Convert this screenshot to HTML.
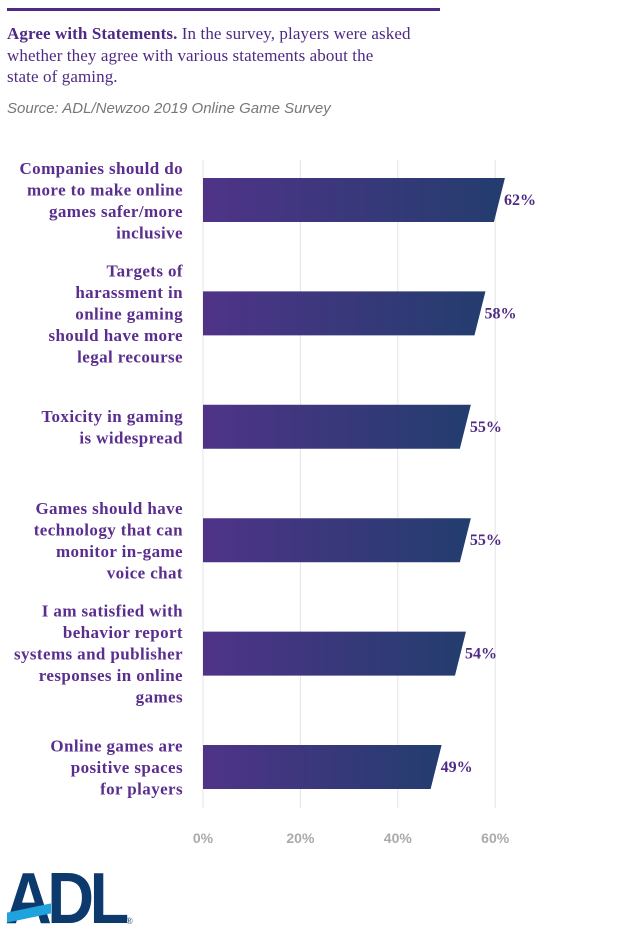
<!DOCTYPE html>
<html><head><meta charset="utf-8"><style>
body{margin:0;width:620px;height:941px;background:#fff;position:relative;overflow:hidden;font-family:"Liberation Serif",serif}
.t{position:absolute}
</style></head><body>
<div class="t" style="left:7px;top:8px;width:433px;height:3px;background:#4e2a84"></div>
<div class="t" style="left:7px;top:23px;width:460px;font-size:17px;line-height:21.5px;color:#4e2a84;letter-spacing:0.1px;white-space:nowrap"><b>Agree with Statements.</b> In the survey, players were asked<br>whether they agree with various statements about the<br>state of gaming.</div>
<div class="t" style="left:7px;top:100px;font-family:'Liberation Sans',sans-serif;font-style:italic;font-size:15px;color:#777">Source: ADL/Newzoo 2019 Online Game Survey</div>
<svg class="t" style="left:0;top:0" width="620" height="941" id="chart">
<defs><linearGradient id="g" x1="0" x2="1"><stop offset="0" stop-color="#4f3388"/><stop offset="1" stop-color="#233d6e"/></linearGradient></defs>
</svg>
<div class="t" style="left:5px;top:866px;width:135px;height:65px">
<div style="position:absolute;left:0;top:-8px;font-family:'Liberation Sans',sans-serif;font-weight:bold;font-size:72px;letter-spacing:-5px;color:#0d3a6c;transform:scaleX(0.9);transform-origin:left">ADL</div>
<div style="position:absolute;left:2px;top:42px;width:44px;height:10px;background:#1fa3dc;transform:skewY(-12deg)"></div>
<div style="position:absolute;left:121px;top:50px;font-size:9px;color:#0d3a6c">®</div>
</div>
<script>
const categories=[["Companies should do","more to make online","games safer/more","inclusive"],["Targets of","harassment in","online gaming","should have more","legal recourse"],["Toxicity in gaming","is widespread"],["Games should have","technology that can","monitor in-game","voice chat"],["I am satisfied with","behavior report","systems and publisher","responses in online","games"],["Online games are","positive spaces","for players"]];
const values=[62,58,55,55,54,49];
const ticks=[0,20,40,60];
const svg=document.getElementById('chart');const NS='http://www.w3.org/2000/svg';
const x=v=>203+v*4.87;const yc=i=>200+i*113.4;
ticks.forEach(t=>{
const l=document.createElementNS(NS,'line');


l.setAttribute('x1',x(t));l.setAttribute('x2',x(t));l.setAttribute('y1',160);l.setAttribute('y2',808);l.setAttribute('stroke','#e4e4e4');l.setAttribute('stroke-width','1');svg.appendChild(l);
const tx=document.createElementNS(NS,'text');


tx.setAttribute('x',x(t));tx.setAttribute('y',843);tx.setAttribute('text-anchor','middle');tx.setAttribute('fill','#aaa');tx.setAttribute('font-size','14');tx.setAttribute('font-weight','bold');tx.setAttribute('font-family','Liberation Sans, sans-serif');tx.textContent=t+'%';svg.appendChild(tx);});
values.forEach((v,i)=>{
const c=yc(i),h=44,t=c-h/2,b=c+h/2,r=x(v);
const p=document.createElementNS(NS,'path');


p.setAttribute('d',`M${x(0)},${t}H${r}L${r-11},${b}H${x(0)}Z`);p.setAttribute('fill','url(#g)');svg.appendChild(p);
const lb=document.createElementNS(NS,'text');


lb.setAttribute('x',r-1);lb.setAttribute('y',c+5);lb.setAttribute('fill','#4e2a84');lb.setAttribute('font-size','16');lb.setAttribute('font-weight','bold');lb.textContent=v+'%';svg.appendChild(lb);
const lines=categories[i];const lh=21.5;const y0=c-(lines.length-1)*lh/2+6;
lines.forEach((s,k)=>{const tt=document.createElementNS(NS,'text');


tt.setAttribute('x',183);tt.setAttribute('y',y0+k*lh);tt.setAttribute('text-anchor','end');tt.setAttribute('fill','#5a2e8e');tt.setAttribute('font-size','17');tt.setAttribute('letter-spacing','0.4');tt.setAttribute('font-weight','bold');tt.textContent=s;svg.appendChild(tt);});
});
</script>
</body></html>
